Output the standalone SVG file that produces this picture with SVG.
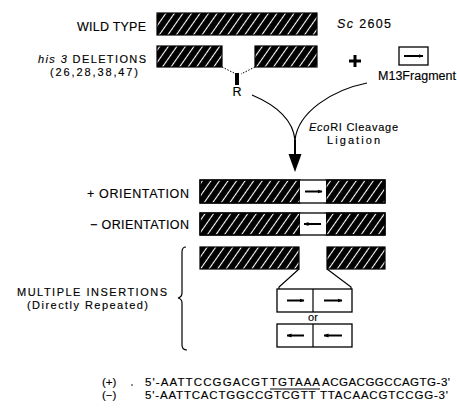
<svg xmlns="http://www.w3.org/2000/svg" width="457" height="417" viewBox="0 0 457 417">
<defs>
<pattern id="hatch" patternUnits="userSpaceOnUse" width="7" height="7" patternTransform="rotate(35)">
<rect width="7" height="7" fill="#000"/>
<line x1="3.5" y1="0" x2="3.5" y2="7" stroke="#fff" stroke-width="1.1"/>
</pattern>
<marker id="ah" viewBox="0 0 10 10" refX="9" refY="5" markerWidth="5" markerHeight="5" orient="auto" markerUnits="userSpaceOnUse">
<path d="M0,1 L10,5 L0,9 Z" fill="#000"/>
</marker>
</defs>
<style>
text{font-family:"Liberation Sans",Arial,sans-serif;font-size:12.5px;fill:#000;stroke:#000;stroke-width:0.15}
.sm{font-size:11px}
.bar{fill:url(#hatch);stroke:#000;stroke-width:1.2}
.box{fill:#fff;stroke:#000;stroke-width:1.3}
.ar{stroke:#000;stroke-width:2;fill:none;marker-end:url(#ah)}
.ln{stroke:#000;stroke-width:1.2;fill:none}
.seq{font-size:11.5px}
</style>
<rect width="457" height="417" fill="#fff"/>

<g id="wildtype">
<text x="77" y="31" textLength="69">WILD TYPE</text>
<rect class="bar" x="157" y="13" width="160" height="22"/>
<text x="337" y="28" textLength="54"><tspan font-style="italic">Sc</tspan> 2605</text>
</g>

<g id="deletions">
<text class="sm" x="38" y="63" textLength="108"><tspan font-style="italic">his 3</tspan> DELETIONS</text>
<text class="sm" x="50" y="76" textLength="88">(26,28,38,47)</text>
<rect class="bar" x="157" y="46" width="65" height="21"/>
<rect class="bar" x="255" y="46" width="62" height="21"/>
<path d="M222,67 L236,74 M255,67 L241,74" stroke="#000" stroke-width="1" stroke-dasharray="1.5,1.5" fill="none"/>
<rect x="235" y="73" width="4" height="12" fill="#000"/>
<text x="237" y="96" text-anchor="middle">R</text>
</g>

<g id="plus">
<path d="M355,55 V67 M349,61 H361" stroke="#000" stroke-width="3"/>
</g>

<g id="m13">
<rect class="box" x="399" y="47" width="29" height="18" stroke-width="1.6"/>
<line class="ar" x1="404" y1="56" x2="423" y2="56" stroke-width="1.8"/>
<text x="378" y="80" textLength="78">M13Fragment</text>
</g>

<g id="connectors">
<path class="ln" stroke-width="2" d="M252,95 C278,106 293,120 295,140"/>
<path class="ln" stroke-width="2" d="M367,83 C332,90 298,112 295,140"/>
<line x1="295" y1="140" x2="295" y2="158" stroke="#000" stroke-width="2"/>
<path d="M288.5,154 L301.5,154 L295,172 Z" fill="#000"/>
</g>

<g id="ecori">
<text class="sm" x="309" y="131" textLength="89"><tspan font-style="italic">Eco</tspan>RI Cleavage</text>
<text class="sm" x="327" y="144" textLength="53">Ligation</text>
</g>

<g id="plusorient">
<text x="87" y="198" textLength="102">+ ORIENTATION</text>
<rect class="bar" x="200" y="180" width="100" height="23"/>
<rect class="bar" x="326" y="180" width="59" height="23"/>
<rect x="300" y="180" width="26" height="23" fill="#fff"/>
<rect x="200" y="180" width="185" height="23" fill="none" stroke="#000" stroke-width="1.3"/>
<line class="ar" x1="305" y1="191.5" x2="322" y2="191.5"/>
</g>

<g id="minusorient">
<text x="90" y="229" textLength="99">− ORIENTATION</text>
<rect class="bar" x="200" y="213" width="100" height="22"/>
<rect class="bar" x="326" y="213" width="59" height="22"/>
<rect x="300" y="213" width="26" height="22" fill="#fff"/>
<rect x="200" y="213" width="185" height="22" fill="none" stroke="#000" stroke-width="1.3"/>
<line class="ar" x1="321" y1="224" x2="304" y2="224"/>
</g>

<g id="multiple">
<text class="sm" x="17" y="296" textLength="150">MULTIPLE INSERTIONS</text>
<text class="sm" x="27" y="309" textLength="121">(Directly Repeated)</text>
<path class="ln" d="M186,247 Q182,247 182,252 V293 Q182,297 178,298 Q182,299 182,303 V345 Q182,350 187,350"/>
<rect class="bar" x="200" y="247" width="99" height="22"/>
<rect class="bar" x="327" y="247" width="58" height="22"/>
<path class="ln" d="M299,269 L279,287 V289 M327,269 L351,287 V289"/>
<rect class="box" x="277" y="289" width="75" height="23"/>
<line class="ln" x1="313" y1="289" x2="313" y2="312"/>
<line class="ar" x1="287" y1="300.5" x2="304" y2="300.5"/>
<line class="ar" x1="324" y1="300.5" x2="342" y2="300.5"/>
<text class="sm" x="313" y="321" text-anchor="middle">or</text>
<rect class="box" x="277" y="324" width="75" height="23"/>
<line class="ln" x1="313" y1="324" x2="313" y2="347"/>
<line class="ar" x1="304" y1="335.5" x2="287" y2="335.5"/>
<line class="ar" x1="342" y1="335.5" x2="324" y2="335.5"/>
</g>

<g id="sequences">
<text class="seq" x="102" y="386">(+)</text>
<circle cx="132" cy="385" r="0.8" fill="#000"/>
<text class="seq" x="145" y="386" textLength="123">5'-AATTCCGGACGT</text>
<text class="seq" x="270" y="386" textLength="50">TGTAAA</text>
<text class="seq" x="322" y="386" textLength="128">ACGACGGCCAGTG-3'</text>
<line x1="270" y1="389" x2="320" y2="389" stroke="#000" stroke-width="1"/>
<text class="seq" x="102" y="399">(−)</text>
<text class="seq" x="145" y="399" textLength="303">5'-AATTCACTGGCCGTCGTT TTACAACGTCCGG-3'</text>
</g>
</svg>
